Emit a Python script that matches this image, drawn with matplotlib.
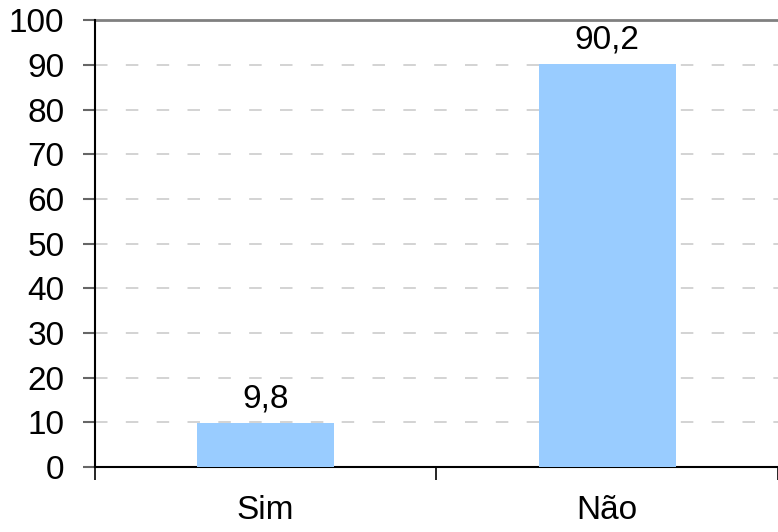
import matplotlib.pyplot as plt
import numpy as np

# dati
categorias = ['Sim', 'Não']
valores = [9.8, 90.2]
yticks = np.arange(0, 101, 10)

plt.rcParams['font.family'] = ['Liberation Sans', 'DejaVu Sans']
plt.rcParams['font.size'] = 24

fig = plt.figure(figsize=(7.78, 5.32), dpi=100)
ax = fig.add_axes([0.122, 0.122, 0.878, 0.84])

x = np.arange(len(categorias))
barras = ax.bar(x, valores, width=0.4, color='#99CCFF', zorder=3)

# rotulos dos valores com virgula decimal
ax.bar_label(barras, labels=[f'{v:.1f}'.replace('.', ',') for v in valores],
             padding=6, fontsize=24)

ax.set_xlim(-0.5, len(categorias) - 0.5)
ax.set_ylim(0, 100)
ax.set_yticks(yticks)

# grade tracejada
for y in yticks[1:-1]:
    ax.axhline(y, color='#CCCCCC', lw=1.2, dashes=(7.5, 11), zorder=1)
ax.axhline(100, color='#808080', lw=2, zorder=2, clip_on=False)

ax.set_xticks(x)
ax.set_xticklabels(categorias)
ax.set_xticks(np.arange(-0.5, len(categorias)), minor=True)
ax.tick_params(axis='x', which='major', length=0, pad=20)
ax.tick_params(axis='x', which='minor', length=9, width=1.2, color='black')
ax.tick_params(axis='y', length=9, width=1.5, color='#666666', pad=13)

for s in ['top', 'right']:
    ax.spines[s].set_visible(False)
ax.spines['left'].set_linewidth(1.5)
ax.spines['bottom'].set_linewidth(1.5)

plt.savefig('out.png', dpi=100)
